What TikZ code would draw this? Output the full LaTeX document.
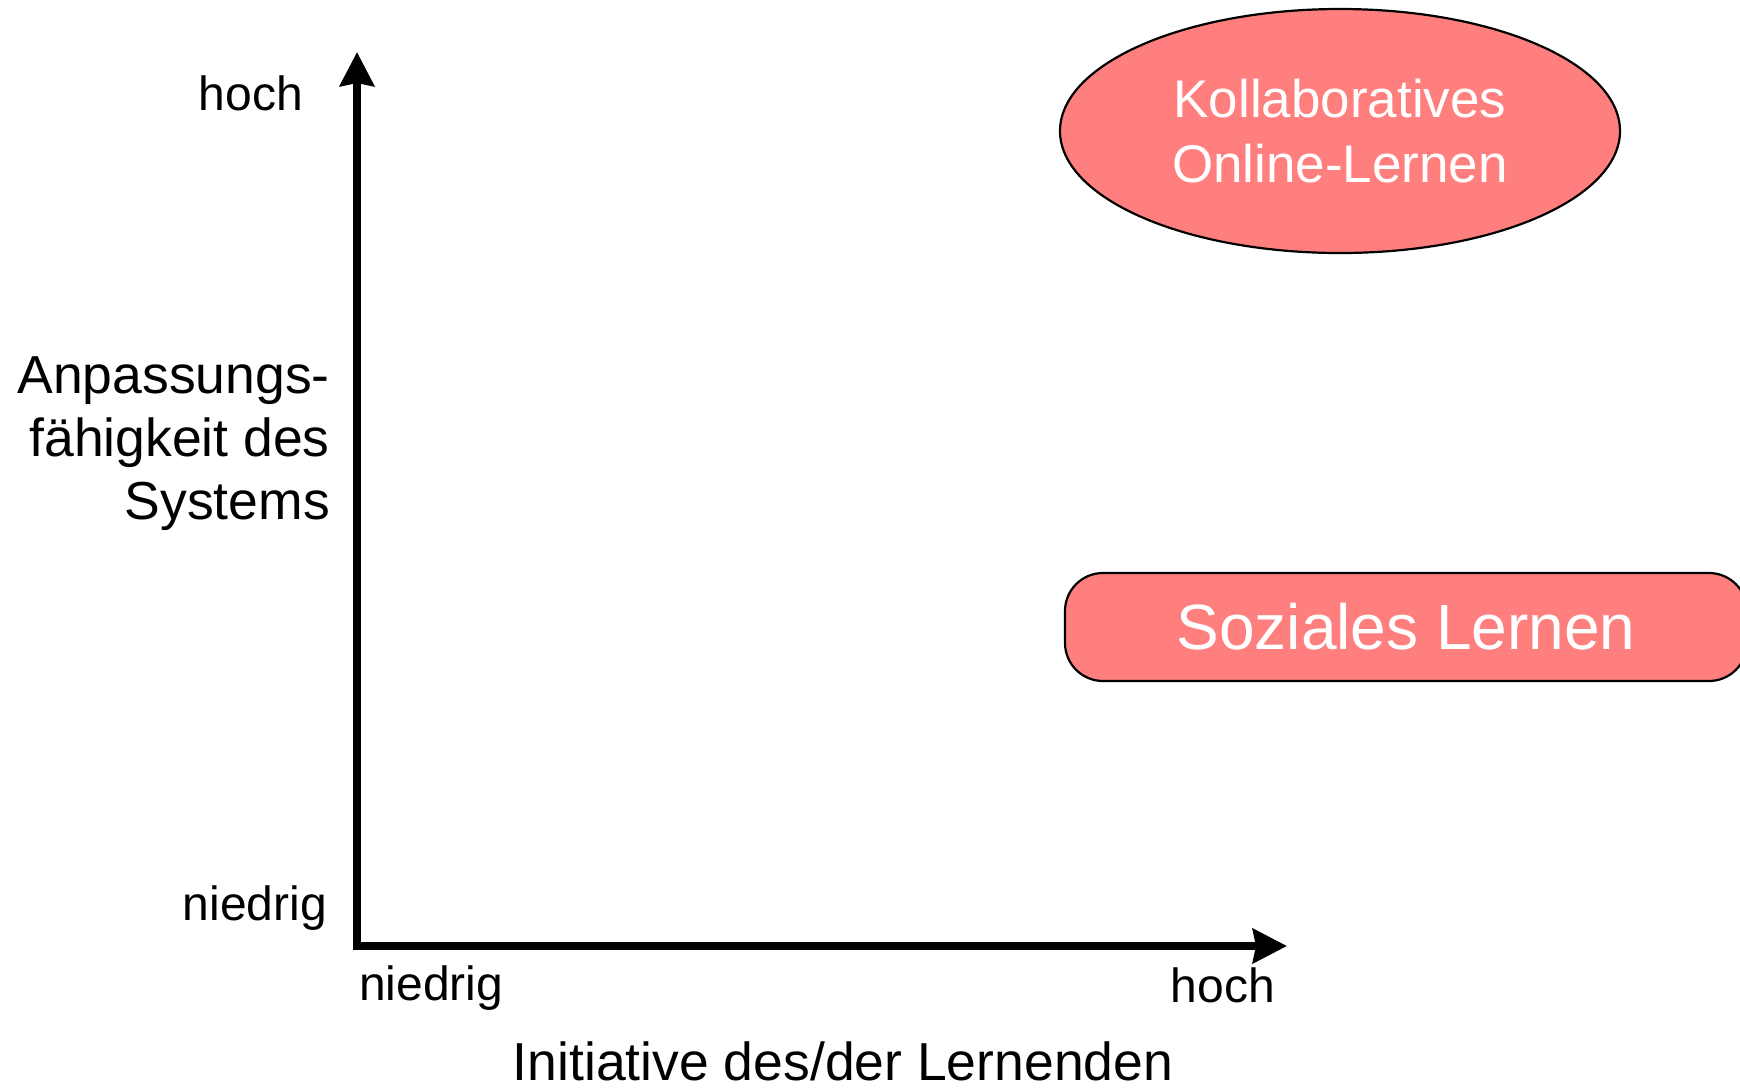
\documentclass[tikz,border=0pt]{standalone}
\usepackage{fontspec}
\setmainfont{Liberation Sans}
\usetikzlibrary{arrows.meta,shapes.geometric}

\definecolor{salmon}{HTML}{FF7F7F}

\tikzset{
  axis/.style={line width=8pt, line join=miter,
    {Stealth[length=34pt,width=34pt,inset=3pt]}-{Stealth[length=34pt,width=34pt,inset=3pt]}},
  ticklabel/.style={inner sep=0pt, font=\fontsize{48}{58}\selectfont},
  axistitle/.style={inner sep=0pt, font=\fontsize{53.5}{63}\selectfont},
  category/.style={draw=black, line width=2.2pt, fill=salmon, text=white, inner sep=0pt},
}

\begin{document}
\begin{tikzpicture}[x=1pt, y=-1pt]
  \clip (0,0) rectangle (1740,1088);
  \fill[white] (0,0) rectangle (1740,1088);

  % axes
  \coordinate (ytip) at (357,52);
  \coordinate (xtip) at (1287,946);
  \draw[axis] (ytip) |- (xtip);

  % vertical axis labels
  \node[ticklabel, anchor=base east] (yhigh) at (303,110) {hoch};
  \node[ticklabel, anchor=base east] (ylow) at (327,920) {niedrig};
  \node[axistitle, anchor=base east, align=right] (ytitle) at (330,519)
    {Anpassungs-\\fähigkeit des\\Systems};

  % horizontal axis labels
  \node[ticklabel, anchor=base west] (xlow) at (359,1000) {niedrig};
  \node[ticklabel, anchor=base east] (xhigh) at (1275,1002) {hoch};
  \node[axistitle, anchor=base] (xtitle) at (843,1080) {Initiative des/der Lernenden};

  % learning forms
  \node[category, ellipse, minimum width=560pt, minimum height=244pt,
        align=center, font=\fontsize{53}{65}\selectfont] (kol) at (1340,131)
    {Kollaboratives\\Online-Lernen};
  \node[category, rectangle, rounded corners=38pt, minimum width=682pt,
        minimum height=108pt, font=\fontsize{64}{70}\selectfont] (soz) at (1406,627)
    {Soziales Lernen};
\end{tikzpicture}
\end{document}
